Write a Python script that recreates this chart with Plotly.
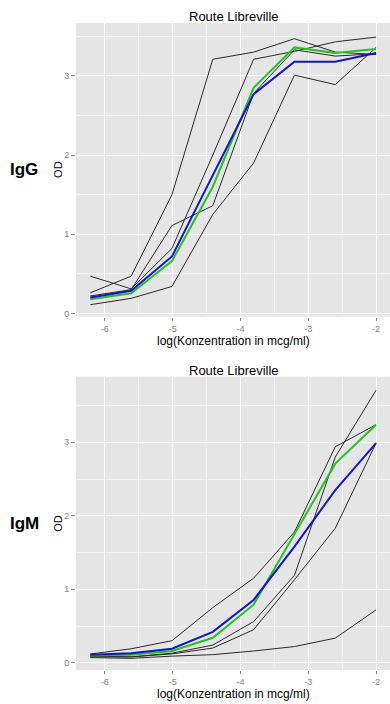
import plotly.graph_objects as go

# log10 concentrations (4-fold dilution series)
log_conc = [-6.214, -5.612, -5.010, -4.408, -3.806, -3.204, -2.602, -2.0]

# IgG panel
igg_green = [0.18, 0.255, 0.66, 1.60, 2.85, 3.36, 3.29, 3.34]
igg_blue = [0.20, 0.285, 0.72, 1.75, 2.77, 3.18, 3.18, 3.29]
igg_gray_a = [0.26, 0.47, 1.50, 3.21, 3.30, 3.47, 3.30, 3.27]
igg_gray_b = [0.47, 0.31, 0.82, 2.00, 3.21, 3.31, 3.43, 3.49]
igg_gray_c = [0.22, 0.30, 1.11, 1.36, 2.78, 3.33, 3.25, 3.28]
igg_gray_e = [0.11, 0.19, 0.34, 1.25, 1.90, 3.01, 2.89, 3.36]

# IgM panel
igm_green = [0.10, 0.11, 0.16, 0.34, 0.79, 1.74, 2.71, 3.24]
igm_blue = [0.11, 0.13, 0.19, 0.42, 0.855, 1.58, 2.35, 2.99]
igm_gray_t = [0.12, 0.19, 0.30, 0.75, 1.15, 1.78, 2.94, 3.24]
igm_gray_s = [0.08, 0.08, 0.13, 0.24, 0.56, 1.19, 2.80, 3.71]
igm_gray_r = [0.09, 0.08, 0.12, 0.20, 0.45, 1.13, 1.83, 2.99]
igm_gray_l = [0.07, 0.06, 0.09, 0.11, 0.16, 0.22, 0.335, 0.72]

x_ticks = [-6, -5, -4, -3, -2]
x_ticklabels = ["-6", "-5", "-4", "-3", "-2"]
y_ticks = [0, 1, 2, 3]
y_ticklabels = ["0", "1", "2", "3"]

title = "Route Libreville"
x_title = "log(Konzentration in mcg/ml)"
y_title = "OD"

W, H = 390, 704
GRAY = "#2a2a2a"
GREEN = "#22c322"
BLUE = "#1414c8"
FONT = "Liberation Sans, Arial, sans-serif"

fig = go.Figure()

panels = [
    ("x", "y", [igg_gray_a, igg_gray_b, igg_gray_c, igg_gray_e], igg_green, igg_blue),
    ("x2", "y2", [igm_gray_t, igm_gray_s, igm_gray_r, igm_gray_l], igm_green, igm_blue),
]
for xa, ya, grays, green, blue in panels:
    for g in grays:
        fig.add_trace(go.Scatter(x=log_conc, y=g, mode="lines", xaxis=xa, yaxis=ya,
                                 line=dict(color=GRAY, width=1), showlegend=False, hoverinfo="skip"))
    fig.add_trace(go.Scatter(x=log_conc, y=green, mode="lines", xaxis=xa, yaxis=ya,
                             line=dict(color=GREEN, width=2), showlegend=False))
    fig.add_trace(go.Scatter(x=log_conc, y=blue, mode="lines", xaxis=xa, yaxis=ya,
                             line=dict(color=BLUE, width=2), showlegend=False))

def px_y(y):
    return 1 - y / H

def px_x(x):
    return x / W

x_dom = [px_x(76), 1.0]
dom1 = [px_y(317.7), px_y(23)]
dom2 = [px_y(672.0), px_y(377.7)]

xaxis_common = dict(
    range=[-6.425, -1.795], tickvals=x_ticks, ticktext=x_ticklabels,
    showgrid=True, gridcolor="white", gridwidth=1.1,
    minor=dict(tickvals=[-6.5, -5.5, -4.5, -3.5, -2.5], showgrid=True, gridcolor="#F2F2F2", gridwidth=0.6),
    ticks="outside", ticklen=3, tickcolor="#7F7F7F", tickwidth=1,
    tickfont=dict(family=FONT, size=9, color="#7F7F7F"),
    zeroline=False, showline=False, domain=x_dom, fixedrange=True,
)
yaxis_common = dict(
    tickvals=y_ticks, ticktext=y_ticklabels,
    showgrid=True, gridcolor="white", gridwidth=1.1,
    minor=dict(tickvals=[0.5, 1.5, 2.5, 3.5], showgrid=True, gridcolor="#F2F2F2", gridwidth=0.6),
    ticks="outside", ticklen=4, tickcolor="#7F7F7F", tickwidth=1,
    tickfont=dict(family=FONT, size=9, color="#7F7F7F"),
    zeroline=False, showline=False, fixedrange=True,
)

fig.update_layout(
    width=W, height=H,
    margin=dict(l=0, r=0, t=0, b=0),
    paper_bgcolor="white", plot_bgcolor="#E5E5E5",
    xaxis=dict(xaxis_common, anchor="y"),
    yaxis=dict(yaxis_common, range=[-0.043, 3.669], domain=dom1, anchor="x"),
    xaxis2=dict(xaxis_common, anchor="y2"),
    yaxis2=dict(yaxis_common, range=[-0.1, 3.894], domain=dom2, anchor="x2"),
    font=dict(family=FONT),
)

cx = px_x((76 + 391) / 2)
ann = []
for t_y, xt_y, od_y, lab, lab_y in [(17, 342, 170.4, "IgG", 170), (372, 696, 525.2, "IgM", 525)]:
    ann.append(dict(text=title, x=cx, y=px_y(t_y), xref="paper", yref="paper",
                    showarrow=False, font=dict(size=13, color="black", family=FONT),
                    xanchor="center", yanchor="middle"))
    ann.append(dict(text=x_title, x=cx, y=px_y(xt_y), xref="paper", yref="paper",
                    showarrow=False, font=dict(size=12, color="black", family=FONT),
                    xanchor="center", yanchor="middle"))
    ann.append(dict(text=y_title, x=px_x(58), y=px_y(od_y), xref="paper", yref="paper",
                    showarrow=False, textangle=-90, font=dict(size=11, color="black", family=FONT),
                    xanchor="center", yanchor="middle"))
    ann.append(dict(text="<b>" + lab + "</b>", x=px_x(24), y=px_y(lab_y), xref="paper", yref="paper",
                    showarrow=False, font=dict(size=17, color="black", family=FONT),
                    xanchor="center", yanchor="middle"))
fig.update_layout(annotations=ann)

fig.write_html("out.html")
